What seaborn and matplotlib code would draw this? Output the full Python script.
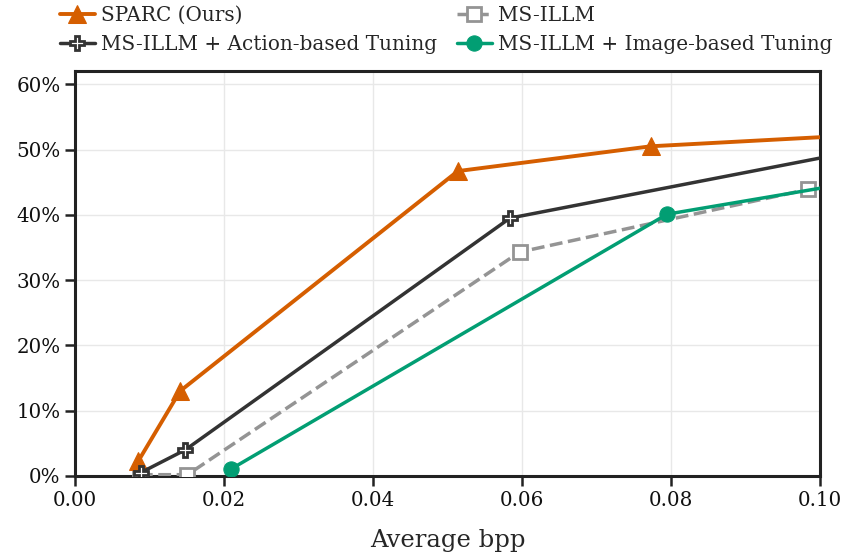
import matplotlib
matplotlib.use("Agg")
import matplotlib.pyplot as plt
import seaborn as sns
import pandas as pd
from matplotlib.ticker import PercentFormatter

sns.set_theme(style="ticks")
plt.rcParams["font.family"] = ["DejaVu Serif"]

# Data (bpp, success rate %)
sparc_x = [0.0085, 0.0141, 0.0514, 0.0773, 0.110]
sparc_y = [2.3, 13.0, 46.7, 50.5, 52.5]
illm_x = [0.0087, 0.0151, 0.0597, 0.0984, 0.110]
illm_y = [0.2, 0.2, 34.3, 43.9, 45.3]
action_x = [0.0088, 0.0148, 0.0584, 0.110]
action_y = [0.5, 4.0, 39.5, 50.9]
image_x = [0.0210, 0.0795, 0.110]
image_y = [1.1, 40.1, 46.0]

labels = ["SPARC (Ours)", "MS-ILLM", "MS-ILLM + Action-based Tuning",
          "MS-ILLM + Image-based Tuning"]
xticks = [0.00, 0.02, 0.04, 0.06, 0.08, 0.10]
yticks = [0, 10, 20, 30, 40, 50, 60]

fig = plt.figure(figsize=(8.46, 5.52), dpi=100)
ax = fig.add_axes([0.0887, 0.1377, 0.969 - 0.0887, 0.871 - 0.1377])

c_orange = "#D55E00"
c_gray = "#949494"
c_black = "#333333"
c_green = "#029E73"

sns.lineplot(x=illm_x, y=illm_y, ax=ax, sort=False, color=c_gray, linewidth=2.5,
             linestyle="--", marker="s", markersize=10, markerfacecolor="white",
             markeredgecolor=c_gray, markeredgewidth=2, label=labels[1], zorder=3)
sns.lineplot(x=image_x, y=image_y, ax=ax, sort=False, color=c_green, linewidth=2.5,
             marker="o", markersize=11, markeredgecolor=c_green,
             label=labels[3], zorder=4)
sns.lineplot(x=sparc_x, y=sparc_y, ax=ax, sort=False, color=c_orange, linewidth=2.8,
             marker="^", markersize=13, markeredgecolor=c_orange,
             label=labels[0], zorder=5)
sns.lineplot(x=action_x, y=action_y, ax=ax, sort=False, color=c_black, linewidth=2.5,
             marker="P", markersize=10.5, markerfacecolor="white",
             markeredgecolor=c_black, markeredgewidth=2,
             label=labels[2], zorder=6)

ax.set_xlim(0, 0.10)
ax.set_ylim(0, 62)
ax.set_xticks(xticks)
ax.set_xticklabels([f"{t:.2f}" for t in xticks])
ax.set_yticks(yticks)
ax.yaxis.set_major_formatter(PercentFormatter(decimals=0))
ax.grid(True, color="#e8e8e8", linewidth=1)
ax.set_axisbelow(True)
for s in ax.spines.values():
    s.set_linewidth(2.2)
    s.set_color("#222222")
ax.tick_params(axis="both", labelsize=14.3, width=1.8, length=7, color="#222222",
               labelcolor="#111111")
ax.set_xlabel("Average bpp", fontsize=17.5, labelpad=14)
ax.set_ylabel("")

handles, labs = ax.get_legend_handles_labels()
ax.get_legend().remove()
order = [labs.index(labels[0]), labs.index(labels[2]), labs.index(labels[1]), labs.index(labels[3])]
fig.legend([handles[i] for i in order], [labs[i] for i in order], loc="upper center",
           bbox_to_anchor=(0.527, 1.022), ncol=2, frameon=False, fontsize=14.4,
           handlelength=1.75, handletextpad=0.3, columnspacing=1.0, labelspacing=0.5)

fig.savefig("out.png", dpi=100)
